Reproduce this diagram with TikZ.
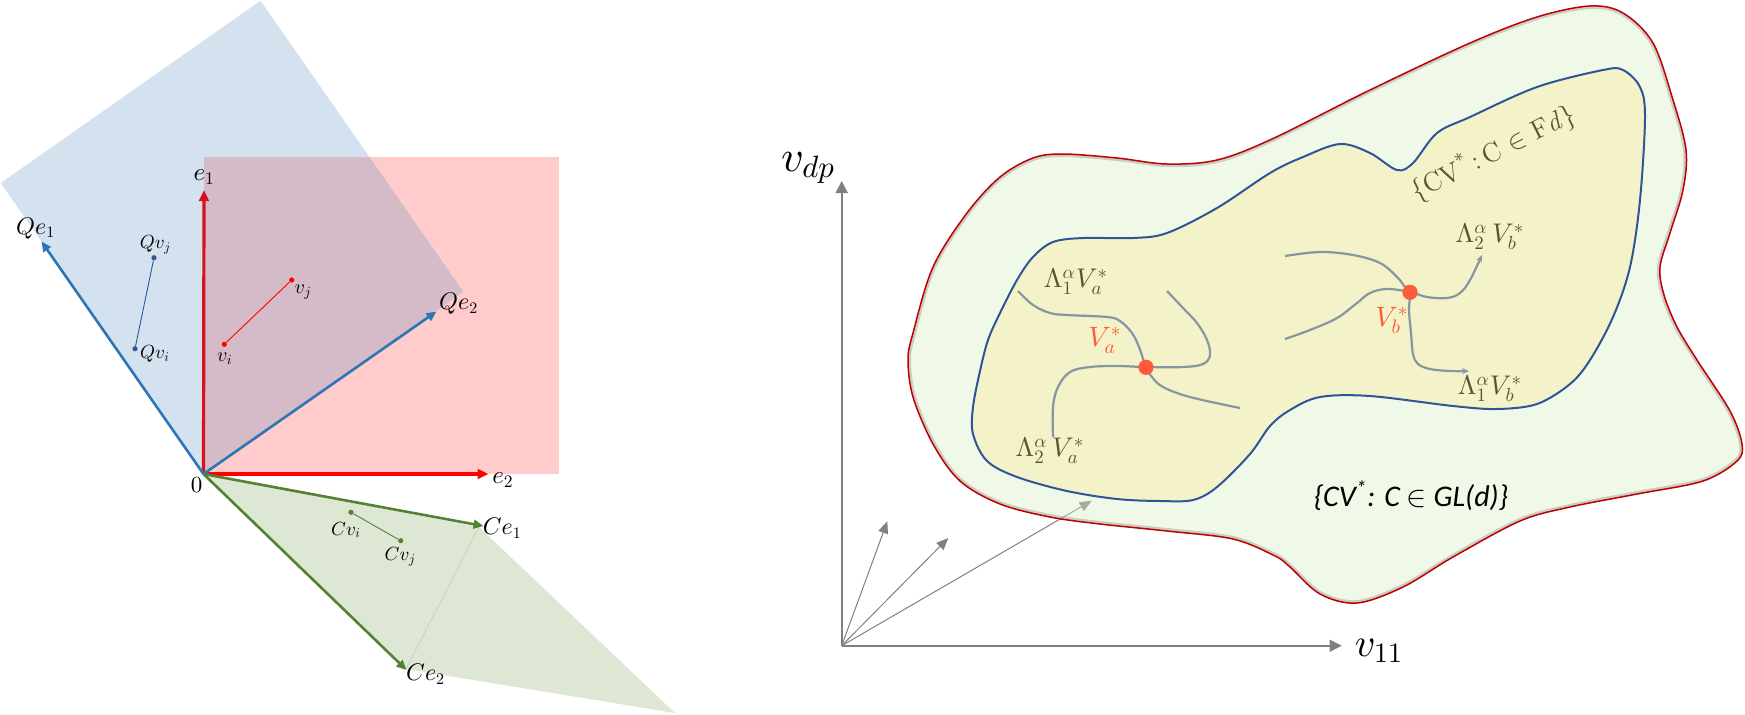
\documentclass[tikz,border=0pt]{standalone}
\usepackage{fontspec}
\newfontfamily\carl{Carlito}
\usetikzlibrary{arrows.meta}
\DeclareFontShape{OML}{cmm}{m}{it}{<-> cmmi10}{}
\DeclareFontShape{OT1}{cmr}{m}{n}{<-> cmr10}{}
\DeclareFontShape{OMS}{cmsy}{m}{n}{<-> cmsy10}{}

\definecolor{bluefill}{HTML}{D4E2F0}
\definecolor{redfill}{HTML}{FFCBCB}
\definecolor{overlapfill}{HTML}{D5BBC7}
\definecolor{greenfill}{HTML}{DEE6D4}
\definecolor{greenline}{HTML}{C8D6BA}
\definecolor{qblue}{HTML}{2E75B6}
\definecolor{dotblue}{HTML}{2F5597}
\definecolor{cgreen}{HTML}{548235}
\definecolor{e1red}{HTML}{D6121E}
\definecolor{e2red}{HTML}{FF0000}
\definecolor{axisgray}{HTML}{808080}
\definecolor{outerfill}{HTML}{DAF0C6}
\definecolor{outerline}{HTML}{C00000}
\definecolor{innerfill}{HTML}{F4F2C8}
\definecolor{innerline}{HTML}{2F5597}
\definecolor{curvegray}{HTML}{8696A2}
\definecolor{dotorange}{HTML}{FF5A3C}
\definecolor{olivetext}{HTML}{595433}

\tikzset{
  fsz/.style={font=\fontsize{#1}{#1}\selectfont},
  lbl/.style={inner sep=0pt, text=black},
  olivelbl/.style={inner sep=0pt, text=olivetext, fsz=13.5},
  redlbl/.style={inner sep=0pt, text=dotorange, fsz=14},
  thickarr/.style={line width=1.6pt, -{Triangle[length=5.5pt,width=4.8pt]}},
  midarr/.style={line width=1.3pt, -{Triangle[length=5pt,width=4.4pt]}},
  smalldot/.style={circle, inner sep=0pt, minimum size=2.6pt},
  bigdot/.style={circle, fill=dotorange, inner sep=0pt, minimum size=7.6pt},
  axarr/.style={axisgray, line width=0.8pt, -{Triangle[length=6pt,width=6pt]}},
  vecarr/.style={axisgray, line width=0.5pt, -{Triangle[length=6pt,width=5pt]}},
  gcurve/.style={curvegray, line width=1.1pt},
}

\def\outerblob{plot[smooth cycle, tension=0.55] coordinates {(908,360) (913,333) (933,267) (967,213) (1000,177) (1033,158) (1063,154) (1117,158) (1167,164) (1217,160) (1272,139) (1370,90) (1470,43) (1537,17) (1590,6) (1623,13) (1653,43) (1673,100) (1686,150) (1683,190) (1670,233) (1660,267) (1664,295) (1677,327) (1697,360) (1730,411) (1742,444) (1737,461) (1703,481) (1637,494) (1570,507) (1520,521) (1453,557) (1403,587) (1357,603) (1320,594) (1290,567) (1275,556) (1233,539) (1167,531) (1100,524) (1050,517) (1000,504) (960,481) (933,444) (913,397)}}

\def\innerblob{plot[smooth cycle, tension=0.55] coordinates {(980,371) (988,340) (1000,313) (1017,280) (1033,257) (1053,242) (1083,238) (1133,238) (1167,233) (1217,208) (1270,173) (1303,157) (1340,144) (1370,153) (1397,170) (1413,163) (1437,133) (1470,117) (1537,87) (1603,70) (1623,70) (1640,87) (1645,117) (1640,200) (1630,267) (1613,317) (1590,360) (1570,384) (1537,404) (1497,409) (1453,406) (1370,396) (1320,397) (1290,410) (1270,426) (1250,454) (1217,487) (1193,500) (1160,501) (1117,499) (1067,491) (1017,477) (987,461) (973,434) (973,407)}}

\begin{document}
\begin{tikzpicture}[x=0.5pt,y=-0.5pt]
\useasboundingbox (0,0) rectangle (1745,714);

% ---------------- left part ----------------
\coordinate (O) at (203.5,474);
\coordinate (e1t) at (204,190);
\coordinate (e2t) at (488.5,474);
\coordinate (Qe1t) at (41.5,241.5);
\coordinate (Qe2t) at (436.5,311.5);
\coordinate (Ce1t) at (483.5,526);
\coordinate (Ce2t) at (406.5,670);
\coordinate (bR) at (463.3,291.7);
\coordinate (bT) at (260.5,0.7);
\coordinate (bL) at (0.7,183);
\coordinate (gA) at (479,527);
\coordinate (gF) at (675,713);
\coordinate (gB) at (406,669);

% green parallelogram
\fill[greenfill] (O) -- (gA) -- (gF) -- (gB) -- cycle;
\draw[greenline, line width=0.4pt] (gA) -- (gB);
% red square
\fill[redfill] (204,157) rectangle (559,474);
% blue rectangle
\fill[bluefill] (O) -- (bR) -- (bT) -- (bL) -- cycle;
% overlap
\begin{scope}
  \clip (204,157) rectangle (559,474);
  \fill[overlapfill] (O) -- (bR) -- (bT) -- (bL) -- cycle;
\end{scope}

% basis vectors
\draw[thickarr, e1red] (O) -- (e1t);
\draw[thickarr, e2red] (O) -- (e2t);
\draw[midarr, qblue] (O) -- (Qe1t);
\draw[midarr, qblue] (O) -- (Qe2t);
\draw[midarr, cgreen] (O) -- (Ce1t);
\draw[midarr, cgreen] (O) -- (Ce2t);

% points
\node[smalldot, fill=dotblue] (Qvi) at (135,348.7) {};
\node[smalldot, fill=dotblue] (Qvj) at (154,257.7) {};
\node[smalldot, fill=e2red] (vi) at (224.3,344.3) {};
\node[smalldot, fill=e2red] (vj) at (291.7,280) {};
\node[smalldot, fill=cgreen] (Cvi) at (351,512.3) {};
\node[smalldot, fill=cgreen] (Cvj) at (400.7,540.7) {};
\draw[dotblue, line width=0.45pt] (Qvi) -- (Qvj);
\draw[e2red, line width=0.45pt] (vi) -- (vj);
\draw[cgreen, line width=0.45pt] (Cvi) -- (Cvj);

% labels
\node[lbl, fsz=11.5] (l0) at (196.7,485) {$0$};
\node[lbl, fsz=12.5] (le1) at (204.3,177) {$e_1$};
\node[lbl, fsz=12.5] (le2) at (503,480) {$e_2$};
\node[lbl, fsz=12] (lQe1) at (35.7,228.3) {$Qe_1$};
\node[lbl, fsz=12] (lQe2) at (458.7,304) {$Qe_2$};
\node[lbl, fsz=9.5] (lQvj) at (155.7,245) {$Qv_j$};
\node[lbl, fsz=9.5] (lQvi) at (155,354) {$Qv_i$};
\node[lbl, fsz=10] (lvj) at (303.3,291.7) {$v_j$};
\node[lbl, fsz=10] (lvi) at (225,358.3) {$v_i$};
\node[lbl, fsz=12] (lCe1) at (502.3,528.3) {$Ce_1$};
\node[lbl, fsz=12] (lCe2) at (425.7,674) {$Ce_2$};
\node[lbl, fsz=9.5] (lCvi) at (346,530) {$Cv_i$};
\node[lbl, fsz=9.5] (lCvj) at (400.3,556.7) {$Cv_j$};

% ---------------- right part ----------------
\coordinate (AO) at (841.7,645.7);
\coordinate (Yt) at (841.7,181);
\coordinate (Xt) at (1341.7,645.7);
\coordinate (P1) at (887.3,521.3);
\coordinate (P2) at (948.3,538);
\coordinate (P3) at (1091.7,500.7);

\draw[axarr] (AO) -- (Yt);
\draw[axarr] (AO) -- (Xt);
\draw[vecarr] (AO) -- (P1);
\draw[vecarr] (AO) -- (P2);
\draw[vecarr] (AO) -- (P3);

% outer set
\fill[outerfill, fill opacity=0.4] \outerblob;
\begin{scope}
  \clip \outerblob;
  \draw[gray, opacity=0.35, line width=3pt] \outerblob;
\end{scope}
\draw[outerline, line width=0.75pt] \outerblob;

% inner set
\fill[innerfill] \innerblob;
\draw[innerline, line width=1pt] \innerblob;

% curves through V_a^*
\draw[gcurve] plot[smooth, tension=0.6] coordinates {(1018,291) (1033,305) (1050,313) (1067,315) (1107,317) (1120,321) (1132,333) (1139,347) (1146,367) (1152,377) (1163,387) (1190,397) (1240,408)};
\draw[gcurve] plot[smooth, tension=0.6] coordinates {(1053,437) (1053,407) (1058,387) (1070,372) (1090,367) (1117,366) (1146,367) (1183,367) (1203,364) (1210,355) (1207,340) (1197,323) (1183,308) (1167,291)};
% curves through V_b^*
\draw[gcurve, -{Stealth[length=3.5pt,width=3pt]}] plot[smooth, tension=0.6] coordinates {(1285,256) (1320,252) (1353,255) (1380,263) (1397,277) (1405,287) (1410,292) (1409,310) (1411,333) (1413,354) (1418,364) (1430,369) (1450,371) (1469,371)};
\draw[gcurve, -{Stealth[length=3.5pt,width=3pt]}] plot[smooth, tension=0.6] coordinates {(1285,339) (1310,330) (1337,318) (1357,303) (1370,293) (1387,289) (1410,292) (1427,297) (1447,298) (1460,293) (1470,280) (1482,255)};

\node[bigdot] (Va) at (1146,367.3) {};
\node[bigdot] (Vb) at (1410,292.3) {};

% labels
\node[lbl, fsz=22] (lvdp) at (808,168) {$v_{dp}$};
\node[lbl, fsz=20] (lv11) at (1379,651) {$v_{11}$};
\node[olivelbl] (lL1a) at (1076,282) {$\Lambda_1^{\alpha}V_a^{*}$};
\node[redlbl] (lVa) at (1105,340) {$V_a^{*}$};
\node[olivelbl] (lL2a) at (1050,451) {$\Lambda_2^{\alpha}\,V_a^{*}$};
\node[olivelbl] (lL2b) at (1490,237) {$\Lambda_2^{\alpha}\,V_b^{*}$};
\node[redlbl] (lVb) at (1392,320) {$V_b^{*}$};
\node[olivelbl] (lL1b) at (1490,389) {$\Lambda_1^{\alpha}V_b^{*}$};
\node[olivelbl, fsz=13.5, rotate=26.6] (lFd) at (1493,153) {\{CV\textsuperscript{*}\,:\,C $\in$ F\textit{d}\}};
\node[lbl, fsz=15] (lGL) at (1411,496) {\carl\itshape \{CV\textsuperscript{*}: C $\in$ GL(d)\}};
\end{tikzpicture}
\end{document}
